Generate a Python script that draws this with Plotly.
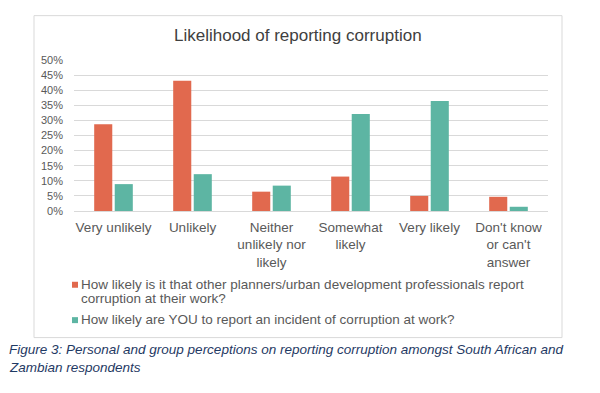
import plotly.graph_objects as go

categories = ["Very unlikely", "Unlikely", "Neither<br>unlikely nor<br>likely",
              "Somewhat<br>likely", "Very likely", "Don't know<br>or can't<br>answer"]
others_values = [0.287, 0.431, 0.064, 0.114, 0.050, 0.047]
you_values = [0.089, 0.122, 0.084, 0.321, 0.364, 0.014]
series_names = ["How likely is it that other planners/urban development professionals report",
                "corruption at their work?"]
series2_name = "How likely are YOU to report an incident of corruption at work?"
tick_vals = [0, 0.05, 0.10, 0.15, 0.20, 0.25, 0.30, 0.35, 0.40, 0.45, 0.50]
tick_text = ["0%", "5%", "10%", "15%", "20%", "25%", "30%", "35%", "40%", "45%", "50%"]

ORANGE = "#E1694E"
TEAL = "#5DB5A3"
FONT = "Liberation Sans, Arial, sans-serif"
TXT = "#595959"

fig = go.Figure()
fig.add_trace(go.Bar(x=categories, y=others_values, name=" ".join(series_names),
                     marker=dict(color=ORANGE, line=dict(width=0))))
fig.add_trace(go.Bar(x=categories, y=you_values, name=series2_name,
                     marker=dict(color=TEAL, line=dict(width=0))))

OFF = 8  # page body margin
W, H = 600 - OFF, 393 - OFF
L, R, T, B = 74 - OFF, 52, 59.5 - OFF, 182
pw, ph = W - L - R, H - T - B

def px_x(x):
    return (x - OFF - L) / pw

def px_y(y):
    return (H - B - (y - OFF)) / ph

fig.update_layout(
    width=W, height=H,
    margin=dict(l=L, r=R, t=T, b=B, pad=0),
    paper_bgcolor="white", plot_bgcolor="white",
    font=dict(family=FONT, color=TXT, size=12),
    barmode="group", bargap=0.48, bargroupgap=0.12,
    showlegend=False,
    xaxis=dict(showgrid=False, showline=False, ticks="", zeroline=False,
               tickfont=dict(size=13.5, color=TXT), ticklabelstandoff=6),
    yaxis=dict(range=[0, 0.5], tickvals=tick_vals, ticktext=tick_text,
               showgrid=True, gridcolor="#D9D9D9", gridwidth=1, zeroline=True,
               zerolinecolor="#D9D9D9", zerolinewidth=1, showline=False,
               tickfont=dict(size=11, color=TXT), ticks="", ticklabelstandoff=10),
)

# chart border
fig.add_shape(type="rect", xref="paper", yref="paper",
              x0=px_x(34), x1=px_x(562), y0=px_y(338), y1=px_y(15),
              line=dict(color="#D9D9D9", width=1), fillcolor="rgba(0,0,0,0)", layer="below")

# title
fig.add_annotation(text="Likelihood of reporting corruption", xref="paper", yref="paper",
                   x=px_x(297.5), y=px_y(35), xanchor="center", yanchor="middle", showarrow=False,
                   font=dict(size=17, color="#404040", family=FONT))

# legend (drawn manually to match compact Excel legend)
legend_items = [
    (ORANGE, [series_names[0], series_names[1]], [284.5, 298.5]),
    (TEAL, [series2_name], [320]),
]
for color, lines, ys in legend_items:
    fig.add_shape(type="rect", xref="paper", yref="paper",
                  x0=px_x(72), x1=px_x(78), y0=px_y(ys[0] + 3.5), y1=px_y(ys[0] - 2.5),
                  line=dict(width=0), fillcolor=color)
    for line, yy in zip(lines, ys):
        fig.add_annotation(text=line, xref="paper", yref="paper",
                           x=px_x(79), y=px_y(yy), xanchor="left", yanchor="middle",
                           showarrow=False, font=dict(size=13.5, color=TXT, family=FONT))

# caption
caption_lines = ["Figure 3: Personal and group perceptions on reporting corruption amongst South African and",
                 "Zambian respondents"]
for line, yy in zip(caption_lines, [350, 368]):
    fig.add_annotation(text="<i>" + line + "</i>", xref="paper", yref="paper",
                       x=px_x(7), y=px_y(yy), xanchor="left", yanchor="middle",
                       showarrow=False, font=dict(size=13.5, color="#1F3A64", family=FONT))

fig.write_html("out.html")
